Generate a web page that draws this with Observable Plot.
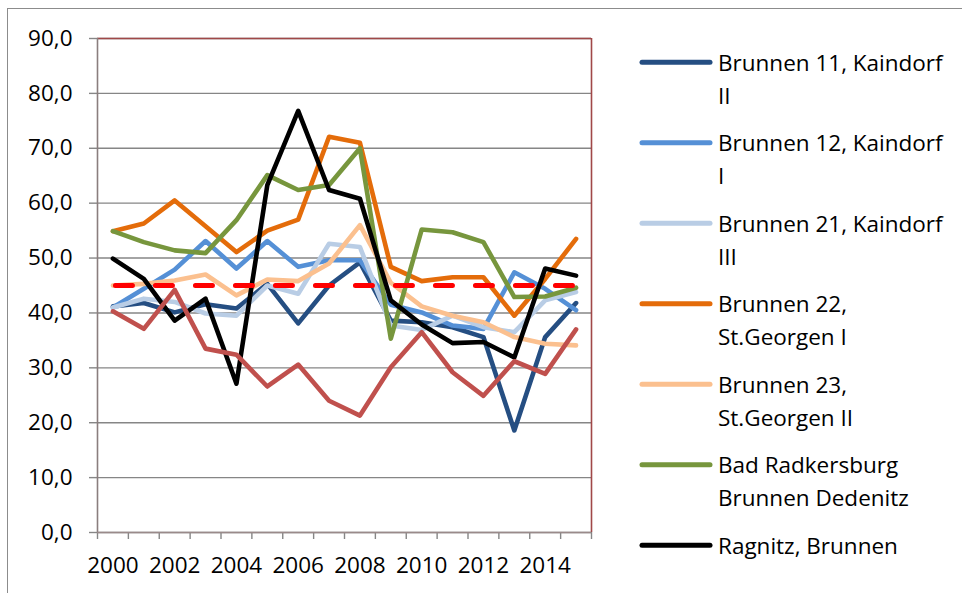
<!DOCTYPE html>
<html>
<head>
<meta charset="utf-8">
<script src="https://cdn.jsdelivr.net/npm/d3@7"></script>
<script src="https://cdn.jsdelivr.net/npm/@observablehq/plot@0.6"></script>
<style>
  html, body { margin: 0; padding: 0; background: #fff; overflow: hidden; }
  #wrap { position: relative; width: 962px; height: 593px; font-family: "Open Sans", sans-serif; }
  #frame { position: absolute; left: 7px; top: 8px; width: 1000px; height: 1000px; border: 1.5px solid #8c8c8c; box-sizing: border-box; }
  #chart { position: absolute; left: 0; top: 0; }
  #legend { position: absolute; left: 0; top: 0; width: 962px; height: 593px; }
  .lt { position: absolute; left: 718px; font-size: 22.5px; line-height: 33px; color: #000; white-space: nowrap; }
</style>
</head>
<body>
<div id="wrap">
  <div id="frame"></div>
  <div id="chart"></div>
  <div id="legend"></div>
</div>
<script>
// ---- data ----
const years = [2000, 2001, 2002, 2003, 2004, 2005, 2006, 2007, 2008, 2009, 2010, 2011, 2012, 2013, 2014, 2015];
const xTickLabels = [2000, 2002, 2004, 2006, 2008, 2010, 2012, 2014];
const yTickValues = [0, 10, 20, 30, 40, 50, 60, 70, 80, 90];

const seriesNames = [
  "Brunnen 11, Kaindorf II",
  "Brunnen 12, Kaindorf I",
  "Brunnen 21, Kaindorf III",
  "Brunnen 22, St.Georgen I",
  "Brunnen 23, St.Georgen II",
  "Bad Radkersburg Brunnen Dedenitz",
  "Ragnitz, Brunnen",
  "Reihe 8"
];
const legendLines = [
  ["Brunnen 11, Kaindorf", "II"],
  ["Brunnen 12, Kaindorf", "I"],
  ["Brunnen 21, Kaindorf", "III"],
  ["Brunnen 22,", "St.Georgen I"],
  ["Brunnen 23,", "St.Georgen II"],
  ["Bad Radkersburg", "Brunnen Dedenitz"],
  ["Ragnitz, Brunnen"]
];
const seriesColors = ["#254E82", "#5590D6", "#B9CDE5", "#E46C0A", "#FBC08F", "#77963D", "#000000", "#C0504D"];

const brunnen11 = [41.2, 41.8, 40.1, 41.6, 40.8, 45.3, 38.1, 45.0, 49.2, 38.6, 38.3, 37.4, 35.6, 18.6, 35.6, 41.8];
const brunnen12 = [41.0, 44.4, 47.9, 53.1, 48.1, 53.1, 48.4, 49.6, 49.6, 41.5, 40.1, 37.7, 37.1, 47.4, 44.4, 40.5];
const brunnen21 = [41.0, 42.6, 42.0, 39.9, 39.5, 45.0, 43.5, 52.6, 52.0, 37.7, 36.9, 39.5, 37.4, 36.5, 42.3, 43.8];
const brunnen22 = [54.9, 56.3, 60.5, 55.8, 51.1, 55.0, 57.0, 72.1, 71.0, 48.4, 45.8, 46.5, 46.5, 39.5, 46.2, 53.5];
const brunnen23 = [45.0, 45.3, 45.9, 47.0, 43.2, 46.1, 45.8, 49.0, 56.0, 45.5, 41.2, 39.5, 38.3, 35.6, 34.4, 34.1];
const dedenitz  = [54.9, 52.9, 51.4, 50.9, 56.9, 65.1, 62.4, 63.3, 70.0, 35.3, 55.2, 54.7, 52.9, 42.9, 43.0, 44.6];
const ragnitz   = [49.9, 46.2, 38.6, 42.6, 27.1, 63.3, 76.8, 62.4, 60.8, 42.3, 37.9, 34.5, 34.7, 31.9, 48.1, 46.8];
const reihe8    = [40.3, 37.1, 44.2, 33.5, 32.4, 26.6, 30.6, 24.0, 21.3, 30.1, 36.5, 29.2, 24.9, 31.2, 28.9, 37.0];
const grenzwert = 45.0;

const seriesValues = [brunnen11, brunnen12, brunnen21, brunnen22, brunnen23, dedenitz, ragnitz, reihe8];

// ---- build tables ----
const rows = [];
seriesValues.forEach((vals, si) => {
  vals.forEach((v, i) => rows.push({ series: seriesNames[si], year: years[i], value: v }));
});
const limitRows = years.map(y => ({ year: y, value: grenzwert }));
const boundaries = years.map(y => y - 0.5).concat([years[years.length - 1] + 0.5]);
const fmt = d => d.toFixed(1).replace(".", ",");

const axisGray = "#868686";
const chart = Plot.plot({
  width: 962,
  height: 593,
  marginLeft: 97,
  marginRight: 371,
  marginTop: 38,
  marginBottom: 61,
  x: { domain: [boundaries[0], boundaries[boundaries.length - 1]] },
  y: { domain: [0, 90] },
  color: { domain: seriesNames, range: seriesColors },
  style: { fontFamily: "Open Sans, sans-serif", fontSize: "22.5px", color: "#000", background: "transparent" },
  marks: [
    Plot.gridY(yTickValues, { stroke: axisGray, strokeOpacity: 1, strokeWidth: 1.4 }),
    Plot.axisY(yTickValues, { tickSize: 8, tickPadding: 17, tickFormat: fmt, stroke: axisGray, strokeWidth: 1.4, label: null, fill: "#000" }),
    Plot.axisX(boundaries, { tickSize: 7, tickFormat: () => "", stroke: axisGray, strokeWidth: 1.4, label: null }),
    Plot.axisX(xTickLabels, { tickSize: 0, tickPadding: 25, tickFormat: d => String(d), label: null, fill: "#000" }),
    Plot.ruleY([90], { stroke: "#A04848", strokeWidth: 1.6 }),
    Plot.ruleX([boundaries[boundaries.length - 1]], { stroke: "#A04848", strokeWidth: 1.6 }),
    Plot.ruleX([boundaries[0]], { stroke: "#8a7e7e", strokeWidth: 1.6 }),
    Plot.ruleY([0], { stroke: "#9a8a8a", strokeWidth: 1.6 }),
    Plot.line(rows, {
      x: "year", y: "value", z: "series", stroke: "series",
      strokeWidth: 4.6, strokeLinejoin: "round", strokeLinecap: "round"
    }),
    Plot.line(limitRows, {
      x: "year", y: "value", stroke: "#FF0000", strokeWidth: 5,
      strokeDasharray: "17,23", strokeDashoffset: -2.5, strokeLinecap: "round"
    })
  ]
});
document.getElementById("chart").appendChild(chart);

// ---- legend (right side) ----
const legend = document.getElementById("legend");
const ns = "http://www.w3.org/2000/svg";
const svg = document.createElementNS(ns, "svg");
svg.setAttribute("width", 962);
svg.setAttribute("height", 593);
svg.style.position = "absolute";
svg.style.left = "0";
svg.style.top = "0";
legend.appendChild(svg);
const legendTop = 62.3, legendStep = 80.5;
legendLines.forEach((lines, i) => {
  const cy = legendTop + legendStep * i;
  const ln = document.createElementNS(ns, "line");
  ln.setAttribute("x1", 642); ln.setAttribute("x2", 710);
  ln.setAttribute("y1", cy); ln.setAttribute("y2", cy);
  ln.setAttribute("stroke", seriesColors[i]);
  ln.setAttribute("stroke-width", 5);
  ln.setAttribute("stroke-linecap", "round");
  svg.appendChild(ln);
  const t = document.createElement("div");
  t.className = "lt";
  t.style.top = (cy - 16.5) + "px";
  t.innerHTML = lines.join("<br>");
  legend.appendChild(t);
});
</script>
</body>
</html>
